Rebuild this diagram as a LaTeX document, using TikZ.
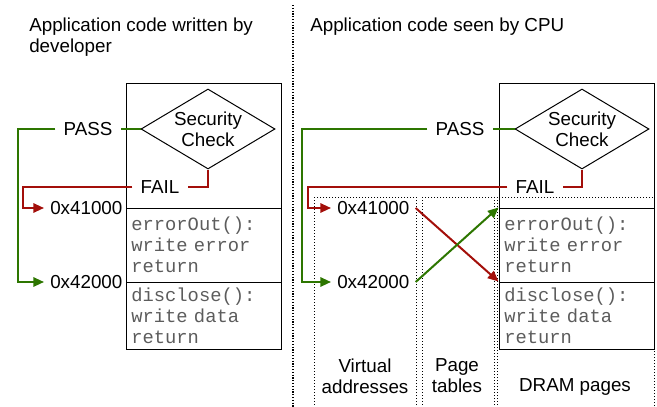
\documentclass[tikz,border=0pt]{standalone}
\usepackage{fontspec}
\setmainfont{Liberation Sans}
\setmonofont{Liberation Mono}
\usetikzlibrary{shapes.geometric,arrows.meta,positioning}
\definecolor{okgreen}{HTML}{2D7600}
\definecolor{badred}{HTML}{A30F0A}
\definecolor{codegray}{HTML}{5C5C5C}
\tikzset{
  lbl/.style={font=\fontsize{14.1}{15.75}\selectfont,inner sep=0pt,align=center},
  tag/.style={font=\fontsize{14.1}{15.75}\selectfont,fill=white,inner xsep=6pt,inner ysep=1pt},
  addr/.style={font=\fontsize{14.1}{15.75}\selectfont,anchor=west,inner xsep=4.5pt,inner ysep=1pt},
  check/.style={diamond,draw,line width=0.75pt,aspect=1.675,minimum width=100.5pt,
                minimum height=60pt,inner sep=0pt,align=center,
                font=\fontsize{14.1}{15.75}\selectfont},
  seg/.style={rectangle,draw,line width=0.75pt,minimum width=116.25pt,inner xsep=4pt,
              text width=108.25pt,align=left,text=codegray,
              font=\ttfamily\fontsize{14.1}{15.75}\selectfont},
  colbox/.style={draw,line width=0.6pt,dash pattern=on 0.75pt off 1.5pt},
  divider/.style={draw,line width=1pt,dash pattern=on 0.9pt off 1.2pt},
  passline/.style={draw=okgreen,line width=1.5pt},
  failline/.style={draw=badred,line width=1.5pt},
  tip/.style={-{Triangle[length=8pt,width=7pt]}},
}
\begin{document}
\begin{tikzpicture}[x=0.75pt,y=-0.75pt]
  \clip (0,0) rectangle (657,407);
  % titles and divider
  \node[lbl,anchor=west,align=left] (ltitle) at (29,37.5) {Application code written by\\developer};
  \node[lbl,anchor=west] (rtitle) at (310,27) {Application code seen by CPU};
  \draw[divider] (293,5) -- (293,407);

  % left: as written
  \node[seg,minimum height=93.75pt] (ltop) at (203.5,145.5) {};
  \node[seg,minimum height=55.5pt] (lerr) at (203.5,245) {errorOut():\\write error\\return};
  \node[seg,minimum height=50.25pt] (ldis) at (203.5,315.5) {disclose():\\write data\\return};
  \node[check] (lchk) at (208,129) {Security\\Check};
  \node[tag] (lpass) at (88,129) {PASS};
  \node[tag] (lfail) at (160,187) {FAIL};
  \node[addr] (l41) at (44,208) {0x41000};
  \node[addr] (l42) at (44,282) {0x42000};
  \coordinate (lpb) at (18,129);
  \coordinate (lfb) at (23,187);
  \draw[passline] (lchk.west) -- (lpass.east);
  \draw[passline,tip] (lpass.west) -- (lpb) |- (l42.west);
  \draw[failline] (lchk.south) |- (lfail.east);
  \draw[failline,tip] (lfail.west) -- (lfb) |- (l41.west);

  % right: as seen by the CPU
  \draw[colbox] (314,197) rectangle (416,415);
  \draw[colbox] (422,197) rectangle (494,415);
  \draw[colbox] (497,197) rectangle (654,415);
  \node[lbl] (vlbl) at (365,376) {Virtual\\addresses};
  \node[lbl] (plbl) at (457,376) {Page\\tables};
  \node[lbl] (dlbl) at (575,387) {DRAM pages};
  \node[seg,minimum height=93.75pt] (rtop) at (576.5,145.5) {};
  \node[seg,minimum height=55.5pt] (rerr) at (576.5,245) {errorOut():\\write error\\return};
  \node[seg,minimum height=50.25pt] (rdis) at (576.5,315.5) {disclose():\\write data\\return};
  \node[check] (rchk) at (582,129) {Security\\Check};
  \node[tag] (rpass) at (460,129) {PASS};
  \node[tag] (rfail) at (535,187) {FAIL};
  \node[addr] (r41) at (331,208) {0x41000};
  \node[addr] (r42) at (331,282) {0x42000};
  \coordinate (rpb) at (302,129);
  \coordinate (rfb) at (308,187);
  \draw[passline] (rchk.west) -- (rpass.east);
  \draw[passline,tip] (rpass.west) -- (rpb) |- (r42.west);
  \draw[failline] (rchk.south) |- (rfail.east);
  \draw[failline,tip] (rfail.west) -- (rfb) |- (r41.west);
  \draw[failline,tip] (r41.east) -- (rdis.north west);
  \draw[passline,tip] (r42.east) -- (rerr.north west);
\end{tikzpicture}
\end{document}
